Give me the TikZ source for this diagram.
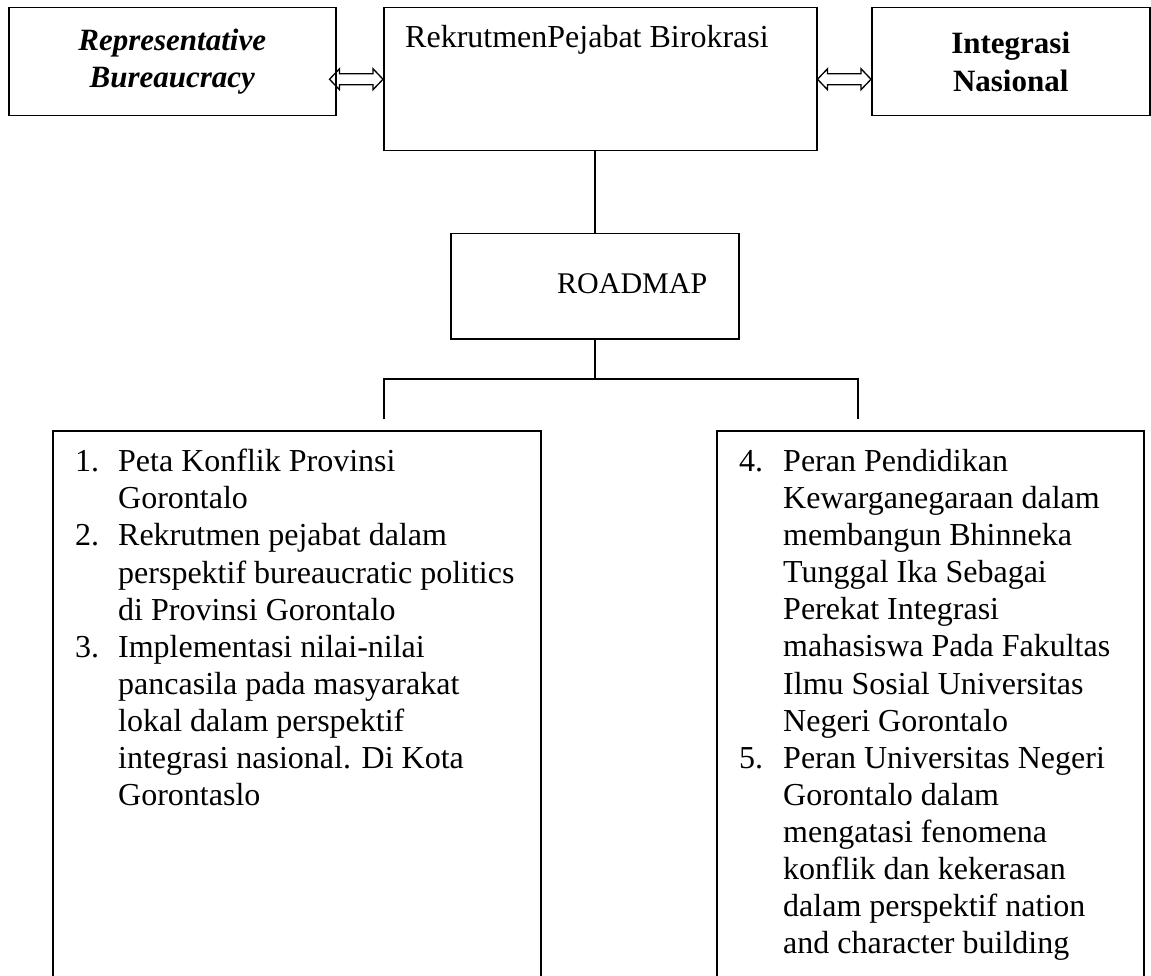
\documentclass[tikz,border=0pt]{standalone}
\usepackage{fontspec}
\setmainfont{Liberation Serif}
\usetikzlibrary{calc}
\newcommand{\hollowarrow}[2]{%
  \draw[line width=1.3pt, line join=miter]
    let \p1=#1, \p2=#2 in
    (\x1,\y1) -- (\x1+10pt,\y1+10.5pt) -- (\x1+10pt,\y1+5.5pt) -- (\x2-10pt,\y1+5.5pt)
    -- (\x2-10pt,\y1+10.5pt) -- (\x2,\y1) -- (\x2-10pt,\y1-10.5pt) -- (\x2-10pt,\y1-5.5pt)
    -- (\x1+10pt,\y1-5.5pt) -- (\x1+10pt,\y1-10.5pt) -- cycle;}
\begin{document}
\begin{tikzpicture}[x=1pt,y=-1pt,
  box/.style={draw, line width=1.5pt, inner sep=0, anchor=north west, align=center},
  txt/.style={font=\fontsize{32}{37.1}\selectfont, inner sep=0, align=left},
  ltxt/.style={font=\fontsize{32}{37.1}\selectfont, inner sep=0, align=left},
  conn/.style={line width=1.5pt}]
\clip (0,0) rectangle (1151,976);
% top row
\node[box, minimum width=327, minimum height=108,
      font=\fontsize{31}{37.5}\selectfont\bfseries\itshape] (lb) at (8,7) {Representative\\Bureaucracy};
\node[box, minimum width=433, minimum height=143] (mb) at (383,7) {};
\node[txt, anchor=base west] (mbt) at (405,48) {RekrutmenPejabat Birokrasi};
\node[box, minimum width=278, minimum height=108,
      font=\fontsize{31}{37.5}\selectfont\bfseries] (rb) at (871,7) {Integrasi\\Nasional};
% roadmap
\node[box, minimum width=288, minimum height=105] (rm) at (450,233) {};
\node[txt, anchor=base west, font=\fontsize{30}{36}\selectfont] (rmt) at (557,294) {ROADMAP};
% bottom boxes
\node[box, minimum width=488, minimum height=620] (bl) at (52,430) {};
\node[box, minimum width=427, minimum height=620] (br) at (716,430) {};
\node[ltxt, anchor=north west] (blt) at (75,449) {%
\makebox[43pt][l]{1.}Peta Konflik Provinsi\\
\hspace*{43pt}Gorontalo\\
\makebox[43pt][l]{2.}Rekrutmen pejabat dalam\\
\hspace*{43pt}perspektif bureaucratic politics\\
\hspace*{43pt}di Provinsi Gorontalo\\
\makebox[43pt][l]{3.}Implementasi nilai-nilai\\
\hspace*{43pt}pancasila pada masyarakat\\
\hspace*{43pt}lokal dalam perspektif\\
\hspace*{43pt}integrasi nasional. Di Kota\\
\hspace*{43pt}Gorontaslo};
\node[ltxt, anchor=north west] (brt) at (739,449) {%
\makebox[44pt][l]{4.}Peran Pendidikan\\
\hspace*{44pt}Kewarganegaraan dalam\\
\hspace*{44pt}membangun Bhinneka\\
\hspace*{44pt}Tunggal Ika Sebagai\\
\hspace*{44pt}Perekat Integrasi\\
\hspace*{44pt}mahasiswa Pada Fakultas\\
\hspace*{44pt}Ilmu Sosial Universitas\\
\hspace*{44pt}Negeri Gorontalo\\
\makebox[44pt][l]{5.}Peran Universitas Negeri\\
\hspace*{44pt}Gorontalo dalam\\
\hspace*{44pt}mengatasi fenomena\\
\hspace*{44pt}konflik dan kekerasan\\
\hspace*{44pt}dalam perspektif nation\\
\hspace*{44pt}and character building};
% double arrows
\coordinate (la1) at ($(lb.east |- mb.west)+(-7,0)$);
\coordinate (la2) at (mb.west);
\coordinate (ra1) at (mb.east);
\coordinate (ra2) at (rb.west |- mb.east);
\hollowarrow{(la1)}{(la2)}
\hollowarrow{(ra1)}{(ra2)}
% connectors
\coordinate (top) at (rm.north |- mb.south);
\draw[conn] (top) -- (rm.north);
\coordinate (j) at (rm.south |- 0,379);
\draw[conn] (rm.south) -- (j);
\coordinate (dl) at (384,419);
\coordinate (dr) at (858,419);
\draw[conn] (dl) |- (j) -| (dr);
\end{tikzpicture}
\end{document}
